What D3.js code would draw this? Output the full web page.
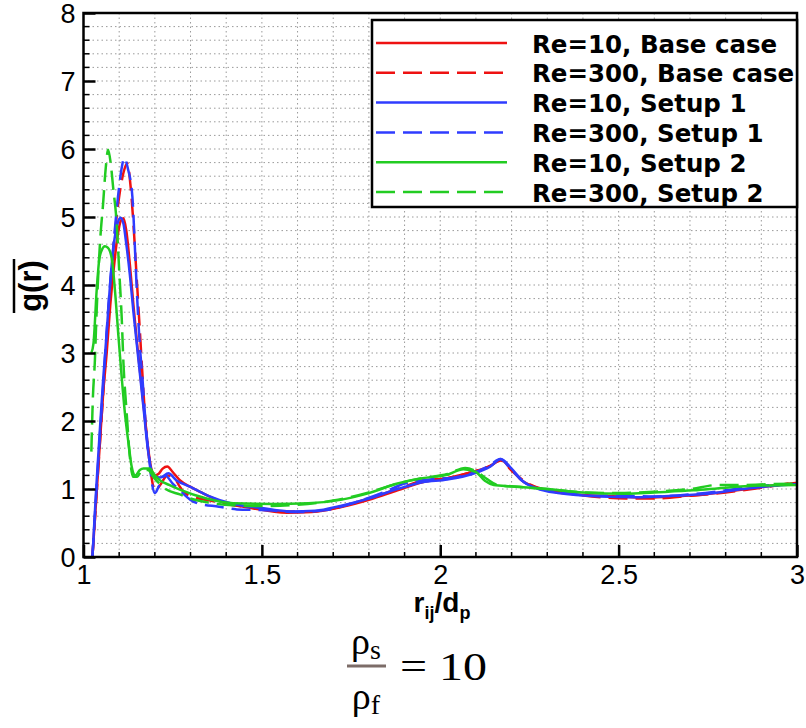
<!DOCTYPE html>
<html>
<head>
<meta charset="utf-8">
<script src="https://cdn.jsdelivr.net/npm/d3@7"></script>
<style>
  body { margin: 0; background: #fff; }
</style>
</head>
<body>
<div id="chart"></div>
<script>
// g(r) curves, [r/dp, g]
const re10Base = [
  [1.025, 0.0], [1.035, 0.8], [1.045, 1.6], [1.055, 2.4], [1.065, 3.0], [1.075, 3.7],
  [1.085, 4.25], [1.095, 4.7], [1.105, 4.95], [1.112, 4.98], [1.12, 4.8], [1.13, 4.3],
  [1.14, 3.7], [1.15, 3.15], [1.16, 2.65], [1.17, 2.15], [1.18, 1.65], [1.19, 1.3],
  [1.2, 1.2], [1.21, 1.22], [1.222, 1.3], [1.235, 1.33], [1.25, 1.25], [1.27, 1.13],
  [1.3, 1.03], [1.33, 0.95], [1.39, 0.81], [1.47, 0.72], [1.57, 0.65], [1.64, 0.66],
  [1.72, 0.73], [1.8, 0.84], [1.88, 0.98], [1.95, 1.1], [2.02, 1.16], [2.09, 1.25],
  [2.14, 1.34], [2.17, 1.43], [2.2, 1.28], [2.23, 1.12], [2.27, 1.02], [2.33, 0.96],
  [2.4, 0.91], [2.5, 0.89], [2.57, 0.87], [2.65, 0.89], [2.72, 0.91], [2.8, 0.96],
  [2.9, 1.03], [3.0, 1.09]
];
const re300Base = [
  [1.025, 0.0], [1.04, 1.2], [1.055, 2.4], [1.07, 3.6], [1.085, 4.6], [1.1, 5.3],
  [1.112, 5.65], [1.123, 5.79], [1.132, 5.45], [1.14, 4.9], [1.148, 4.2], [1.156, 3.5],
  [1.165, 2.7], [1.174, 1.97], [1.184, 1.45], [1.195, 1.05], [1.202, 0.98], [1.215, 1.06],
  [1.235, 1.2], [1.252, 1.18], [1.268, 1.05], [1.28, 0.96], [1.31, 0.88], [1.345, 0.84],
  [1.4, 0.78], [1.48, 0.72], [1.56, 0.67], [1.64, 0.67], [1.72, 0.74], [1.8, 0.86],
  [1.88, 1.0], [1.95, 1.12], [2.02, 1.16], [2.09, 1.25], [2.14, 1.34], [2.17, 1.42],
  [2.2, 1.27], [2.24, 1.1], [2.3, 0.98], [2.38, 0.92], [2.45, 0.88], [2.52, 0.86],
  [2.6, 0.86], [2.7, 0.9], [2.8, 0.95], [2.9, 1.02], [3.0, 1.1]
];
const re10Setup1 = [
  [1.025, 0.0], [1.035, 0.95], [1.045, 1.8], [1.055, 2.6], [1.065, 3.3], [1.075, 4.05],
  [1.085, 4.6], [1.095, 4.9], [1.104, 4.99], [1.112, 4.9], [1.12, 4.6], [1.13, 4.15],
  [1.14, 3.6], [1.15, 3.1], [1.16, 2.6], [1.17, 2.1], [1.18, 1.6], [1.19, 1.28],
  [1.2, 1.18], [1.215, 1.17], [1.238, 1.23], [1.26, 1.13], [1.3, 1.03], [1.35, 0.9],
  [1.42, 0.78], [1.5, 0.72], [1.58, 0.67], [1.65, 0.68], [1.72, 0.75], [1.8, 0.86],
  [1.88, 1.0], [1.95, 1.1], [2.02, 1.14], [2.09, 1.22], [2.14, 1.33], [2.17, 1.44],
  [2.2, 1.3], [2.23, 1.12], [2.27, 1.01], [2.33, 0.94], [2.45, 0.89], [2.55, 0.88],
  [2.65, 0.9], [2.75, 0.93], [2.85, 1.0], [2.92, 1.04], [3.0, 1.07]
];
const re300Setup1 = [
  [1.025, 0.0], [1.04, 1.3], [1.055, 2.5], [1.07, 3.7], [1.085, 4.65], [1.1, 5.45],
  [1.108, 5.75], [1.114, 5.87], [1.125, 5.7], [1.137, 5.3], [1.142, 4.8], [1.147, 4.2],
  [1.152, 3.65], [1.158, 3.1], [1.165, 2.65], [1.174, 1.97], [1.184, 1.45], [1.193, 1.05],
  [1.2, 0.94], [1.212, 1.05], [1.229, 1.2], [1.25, 1.08], [1.27, 0.98], [1.3, 0.84],
  [1.32, 0.79], [1.38, 0.74], [1.43, 0.7], [1.5, 0.69], [1.6, 0.66], [1.68, 0.69],
  [1.76, 0.8], [1.84, 0.95], [1.9, 1.08], [1.97, 1.14], [2.04, 1.17], [2.1, 1.25],
  [2.14, 1.35], [2.168, 1.44], [2.2, 1.28], [2.23, 1.12], [2.28, 1.0], [2.35, 0.95],
  [2.42, 0.9], [2.5, 0.9], [2.6, 0.89], [2.7, 0.92], [2.8, 0.98], [2.88, 1.04], [3.0, 1.07]
];
const re10Setup2 = [
  [1.022, 3.0], [1.028, 3.14], [1.037, 3.93], [1.044, 4.37], [1.051, 4.51], [1.06, 4.57],
  [1.068, 4.55], [1.079, 4.4], [1.088, 3.93], [1.098, 3.24], [1.107, 2.65], [1.116, 2.12],
  [1.126, 1.68], [1.135, 1.33], [1.145, 1.2], [1.158, 1.28], [1.168, 1.3], [1.185, 1.3],
  [1.2, 1.2], [1.214, 1.13], [1.24, 1.06], [1.27, 0.99], [1.345, 0.86], [1.42, 0.79],
  [1.53, 0.78], [1.63, 0.79], [1.72, 0.84], [1.8, 0.94], [1.88, 1.08], [1.95, 1.16],
  [2.02, 1.21], [2.065, 1.29], [2.1, 1.25], [2.125, 1.12], [2.15, 1.06], [2.2, 1.04],
  [2.3, 1.0], [2.4, 0.95], [2.52, 0.93], [2.6, 0.95], [2.71, 0.98], [2.8, 1.02],
  [2.9, 1.05], [3.0, 1.06]
];
const re300Setup2 = [
  [1.022, 1.55], [1.026, 2.3], [1.032, 2.9], [1.036, 3.5], [1.046, 4.6], [1.055, 5.2],
  [1.062, 5.7], [1.069, 5.99], [1.076, 5.8], [1.083, 5.44], [1.093, 4.91], [1.1, 4.22],
  [1.107, 3.53], [1.112, 2.85], [1.121, 2.12], [1.13, 1.47], [1.139, 1.18], [1.15, 1.18],
  [1.165, 1.28], [1.18, 1.28], [1.2, 1.15], [1.23, 1.0], [1.27, 0.92], [1.3, 0.86],
  [1.35, 0.8], [1.42, 0.76], [1.5, 0.75], [1.6, 0.77], [1.7, 0.83], [1.8, 0.95],
  [1.88, 1.08], [1.95, 1.16], [2.02, 1.22], [2.07, 1.31], [2.1, 1.26], [2.13, 1.15],
  [2.16, 1.06], [2.22, 1.03], [2.3, 1.0], [2.4, 0.95], [2.5, 0.94], [2.6, 0.96],
  [2.7, 1.0], [2.78, 1.06], [2.85, 1.06], [2.92, 1.07], [3.0, 1.08]
];

const seriesNames = [
  'Re=10, Base case', 'Re=300, Base case',
  'Re=10, Setup 1', 'Re=300, Setup 1',
  'Re=10, Setup 2', 'Re=300, Setup 2'
];
const seriesData = [re10Base, re300Base, re10Setup1, re300Setup1, re10Setup2, re300Setup2];
const seriesColors = ['#ee1111', '#ee1111', '#2f3cff', '#2f3cff', '#22cc22', '#22cc22'];
const seriesDashed = [false, true, false, true, false, true];

const xTicks = [1, 1.5, 2, 2.5, 3];
const yTicks = [0, 1, 2, 3, 4, 5, 6, 7, 8];

const W = 806, H = 728;
const pLeft = 83.5, pRight = 797, pTop = 13, pBottom = 557;

const svg = d3.select('#chart').append('svg')
  .attr('width', W).attr('height', H)
  .attr('viewBox', `0 0 ${W} ${H}`);

const x = d3.scaleLinear().domain([1, 3]).range([pLeft, pRight]);
const y = d3.scaleLinear().domain([0, 8]).range([pBottom, pTop]);

// dotted grid
const gridX = d3.range(1.1, 3, 0.1);
const gridY = d3.range(0.2, 8, 0.2);
svg.append('g').selectAll('line').data(gridX).join('line')
  .attr('x1', d => x(d)).attr('x2', d => x(d))
  .attr('y1', pTop).attr('y2', pBottom)
  .attr('stroke', '#9a9a9a').attr('stroke-width', 1)
  .attr('stroke-dasharray', '1.5,3');
svg.append('g').selectAll('line').data(gridY).join('line')
  .attr('x1', pLeft).attr('x2', pRight)
  .attr('y1', d => y(d)).attr('y2', d => y(d))
  .attr('stroke', '#9a9a9a').attr('stroke-width', 1)
  .attr('stroke-dasharray', '1.5,3');

// curves
svg.append('clipPath').attr('id', 'plotclip')
  .append('rect').attr('x', pLeft).attr('y', pTop)
  .attr('width', pRight - pLeft).attr('height', pBottom - pTop);

const line = d3.line()
  .x(d => x(d[0])).y(d => y(d[1]))
  .curve(d3.curveMonotoneX);

const curves = svg.append('g').attr('clip-path', 'url(#plotclip)');
seriesData.forEach((data, i) => {
  curves.append('path')
    .attr('d', line(data))
    .attr('fill', 'none')
    .attr('stroke', seriesColors[i])
    .attr('stroke-width', 2.5)
    .attr('stroke-linejoin', 'round')
    .attr('stroke-dasharray', seriesDashed[i] ? '19,8' : null);
});

// axes: ticks point inward
const xAxis = d3.axisBottom(x).tickValues(xTicks).tickSize(-12)
  .tickFormat(d3.format('~g'));
const gx = svg.append('g').attr('transform', `translate(0,${pBottom})`).call(xAxis);
gx.select('.domain').remove();
gx.selectAll('.tick line').attr('stroke', '#000').attr('stroke-width', 2.5);
gx.selectAll('.tick text').attr('y', 27).attr('dy', 0)
  .attr('font-family', 'Liberation Sans, Arial, sans-serif')
  .attr('font-size', 27).attr('fill', '#000');
svg.append('g').selectAll('line')
  .data(d3.range(1.1, 3, 0.1).filter(v => Math.abs(v * 2 - Math.round(v * 2)) > 0.01))
  .join('line')
  .attr('x1', d => x(d)).attr('x2', d => x(d))
  .attr('y1', pBottom).attr('y2', pBottom - 5)
  .attr('stroke', '#000').attr('stroke-width', 1.5);

const yAxis = d3.axisLeft(y).tickValues(yTicks).tickSize(-12);
const gy = svg.append('g').attr('transform', `translate(${pLeft},0)`).call(yAxis);
gy.select('.domain').remove();
gy.selectAll('.tick line').attr('stroke', '#000').attr('stroke-width', 2.5);
gy.selectAll('.tick text').attr('x', -8).attr('dy', '0.36em')
  .attr('font-family', 'Liberation Sans, Arial, sans-serif')
  .attr('font-size', 27).attr('fill', '#000');
svg.append('g').selectAll('line')
  .data(d3.range(0.2, 8, 0.2).filter(v => Math.abs(v - Math.round(v)) > 0.01))
  .join('line')
  .attr('x1', pLeft).attr('x2', pLeft + 6)
  .attr('y1', d => y(d)).attr('y2', d => y(d))
  .attr('stroke', '#000').attr('stroke-width', 1.5);

// frame
svg.append('rect')
  .attr('x', pLeft).attr('y', pTop)
  .attr('width', pRight - pLeft).attr('height', pBottom - pTop)
  .attr('fill', 'none').attr('stroke', '#000').attr('stroke-width', 2.5);

// axis titles
const yLab = svg.append('g').attr('transform', 'translate(41,286) rotate(-90)');
yLab.append('text')
  .attr('text-anchor', 'middle')
  .attr('font-family', 'Liberation Sans, Arial, sans-serif')
  .attr('font-weight', 'bold').attr('font-size', 31)
  .text('g(r)');
yLab.append('line')
  .attr('x1', -27).attr('x2', 27).attr('y1', -27).attr('y2', -27)
  .attr('stroke', '#000').attr('stroke-width', 2.5);

const xLab = svg.append('text')
  .attr('x', 442).attr('y', 612)
  .attr('text-anchor', 'middle')
  .attr('font-family', 'Liberation Sans, Arial, sans-serif')
  .attr('font-weight', 'bold').attr('font-size', 28);
xLab.append('tspan').text('r');
xLab.append('tspan').attr('font-size', 18).attr('dy', 7).text('ij');
xLab.append('tspan').attr('dy', -7).text('/d');
xLab.append('tspan').attr('font-size', 18).attr('dy', 7).text('p');

// legend
const legend = svg.append('g');
legend.append('rect')
  .attr('x', 372).attr('y', 20).attr('width', 425).attr('height', 187)
  .attr('fill', '#fff').attr('stroke', '#000').attr('stroke-width', 2.5);
seriesNames.forEach((name, i) => {
  const ly = 43 + i * 29.8;
  legend.append('line')
    .attr('x1', 376).attr('x2', 507).attr('y1', ly).attr('y2', ly)
    .attr('stroke', seriesColors[i]).attr('stroke-width', 2.5)
    .attr('stroke-dasharray', seriesDashed[i] ? '19,8' : null);
  legend.append('text')
    .attr('x', 532).attr('y', ly + 9.5)
    .attr('font-family', 'DejaVu Sans, sans-serif')
    .attr('font-weight', 'bold').attr('font-size', 24.5)
    .text(name);
});

// density ratio note below the chart
const note = svg.append('g').attr('font-family', 'Liberation Serif, serif').attr('fill', '#000');
const num = note.append('text').attr('x', 366).attr('y', 654).attr('text-anchor', 'middle')
  .attr('font-size', 38);
num.append('tspan').text('ρ');
num.append('tspan').attr('font-size', 28).attr('dy', 5).text('s');
note.append('line')
  .attr('x1', 347).attr('x2', 386).attr('y1', 666).attr('y2', 666)
  .attr('stroke', '#7c6c68').attr('stroke-width', 3);
const den = note.append('text').attr('x', 366).attr('y', 709).attr('text-anchor', 'middle')
  .attr('font-size', 38);
den.append('tspan').text('ρ');
den.append('tspan').attr('font-size', 28).attr('dy', 5).text('f');
note.append('text').attr('transform', 'translate(400,680) scale(1.2,1)')
  .attr('font-size', 40).text('= 10');
</script>
</body>
</html>
